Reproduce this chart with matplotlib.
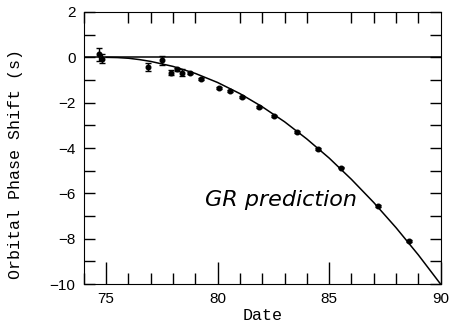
import numpy as np
import matplotlib
matplotlib.use("Agg")
import matplotlib.pyplot as plt
from matplotlib.ticker import MultipleLocator

# measured orbital phase shift (s) vs date
date = [74.69, 74.83, 76.87, 77.52, 77.90, 78.17, 78.39, 78.77, 79.26,
        80.07, 80.56, 81.11, 81.87, 82.53, 83.55, 84.52, 85.52, 87.20, 88.56]
shift = [0.13, -0.06, -0.43, -0.13, -0.67, -0.53, -0.67, -0.69, -0.94,
         -1.35, -1.50, -1.76, -2.19, -2.60, -3.29, -4.05, -4.86, -6.56, -8.09]
err = [0.28, 0.20, 0.18, 0.20, 0.10, 0.08, 0.15, 0.05, 0.04,
       0.04, 0.04, 0.04, 0.04, 0.04, 0.04, 0.04, 0.04, 0.04, 0.04]

# GR prediction curve
gr_date = [75, 75.5, 76, 76.5, 77, 78, 79, 80, 81, 82, 83, 84, 85, 86, 87, 88, 89, 90]
gr_shift = [0.0, -0.01, -0.04, -0.10, -0.18, -0.40, -0.71, -1.11, -1.60, -2.18,
            -2.84, -3.60, -4.44, -5.38, -6.40, -7.51, -8.71, -10.0]

fig = plt.figure(figsize=(4.51, 3.24), dpi=100)
ax = fig.add_axes([0.186, 0.123, 0.791, 0.840])

ax.axhline(0, color="black", lw=1.1)
ax.plot(gr_date, gr_shift, color="black", lw=1.1)
ax.errorbar(date, shift, yerr=err, fmt="o", color="black", ms=3.3,
            elinewidth=1, capsize=2, capthick=1)

ax.text(79.45, -6.56, "GR prediction", fontsize=16, style="italic",
        family="DejaVu Sans", va="baseline", ha="left")

ax.set_xlim(74, 90)
ax.set_ylim(-10, 2)
ax.xaxis.set_major_locator(MultipleLocator(5))
ax.xaxis.set_minor_locator(MultipleLocator(1))
ax.yaxis.set_major_locator(MultipleLocator(2))
ax.yaxis.set_minor_locator(MultipleLocator(1))
ax.tick_params(which="both", direction="in", top=True, right=True, width=1)
ax.tick_params(axis="x", which="major", length=16, pad=6)
ax.tick_params(axis="x", which="minor", length=8)
ax.tick_params(axis="y", which="both", length=8, pad=6)
ax.tick_params(axis="x", which="major", top=False)
for lab in ax.get_xticklabels() + ax.get_yticklabels():
    lab.set_family("Liberation Sans")
    lab.set_fontsize(11)

ax.set_xlabel("Date", family="Liberation Mono", fontsize=12, labelpad=1)
ax.set_ylabel("Orbital Phase Shift (s)", family="Liberation Mono",
              fontsize=12)
ax.yaxis.set_label_coords(-0.17, 0.44)

fig.savefig("out.png", dpi=100)
